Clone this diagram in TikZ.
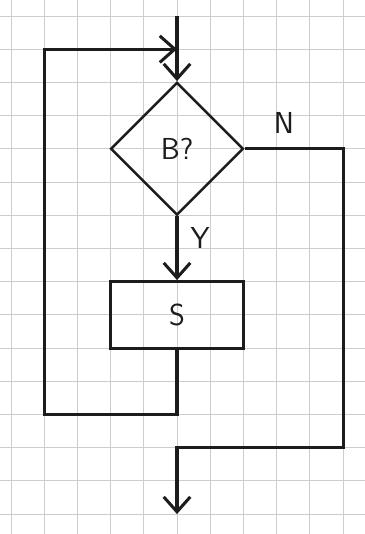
\documentclass[tikz,border=0pt]{standalone}
\usetikzlibrary{arrows.meta,shapes.geometric}
\definecolor{gridgray}{RGB}{205,205,205}
\definecolor{pencil}{RGB}{28,28,28}

\begin{document}
\begin{tikzpicture}[font=\sffamily\fontsize{26}{28}\selectfont,
    color=pencil,line width=2.6pt,
    dec/.style={draw,diamond,minimum width=4cm,minimum height=4cm,inner sep=0pt,line width=2.2pt},
    blk/.style={draw,rectangle,minimum width=4cm,minimum height=2cm},
    a/.style={-{Straight Barb[length=4.5mm,width=8mm]}}]
  \useasboundingbox (-0.33,0.48) rectangle (10.66,-15.6);
  % squared paper
  \foreach \k in {0,...,10}
    \draw[gridgray,line width=0.7pt] (\k,0.48) -- (\k,-15.6);
  \foreach \j in {0,...,15}
    \draw[gridgray,line width=0.7pt] (-0.33,-\j) -- (10.66,-\j);

  \coordinate (entry) at (5,0);
  \coordinate (join) at (5,-1);
  \node[dec] (test) at (5,-4) {B?};
  \node[blk] (body) at (5,-9) {S};
  \coordinate (leftcol) at (1,-12);
  \coordinate (rightcol) at (10,-13);
  \coordinate (merge) at (5,-13);
  \coordinate (exit) at (5,-15);

  \draw[a] (entry) -- (test.north);
  \draw[a] (test.south) -- node[pos=.33,right=2.5mm]{Y} (body.north);
  \draw[a] (body.south) |- (leftcol) |- (join);
  \draw[a] (test.east) -| node[pos=.2,above=3mm]{N} (rightcol) -- (merge) -- (exit);
\end{tikzpicture}
\end{document}
